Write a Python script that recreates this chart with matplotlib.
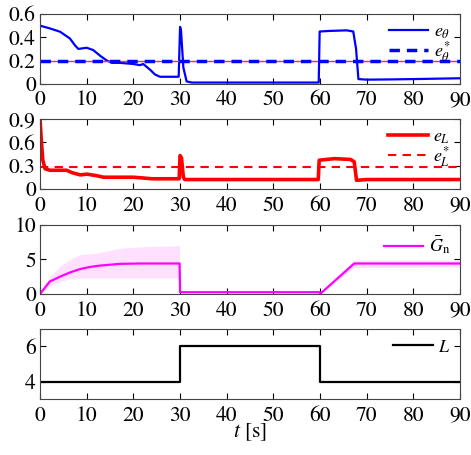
import matplotlib
matplotlib.use("Agg")
import matplotlib.pyplot as plt

plt.rcParams['font.family'] = 'serif'
plt.rcParams['font.serif'] = ['STIXGeneral', 'Liberation Serif', 'DejaVu Serif']
plt.rcParams['mathtext.fontset'] = 'stix'
plt.rcParams['font.size'] = 14

# ---- data ----
t_eth = [0, 2.1, 4.3, 6.4, 7.5, 8.2, 10, 11.4, 12.9, 14.3, 15.4, 17.1, 20, 21.4, 22.1, 23.6, 24.6, 25.7, 29.7,
         30.0, 30.2, 30.7, 31.4, 32.5, 59.7, 59.9, 62, 65.7, 67.1, 67.7, 68.2, 70, 75, 80, 90]
v_eth = [0.50, 0.477, 0.448, 0.39, 0.33, 0.30, 0.31, 0.29, 0.24, 0.20, 0.18, 0.18, 0.17, 0.16, 0.17, 0.12, 0.08, 0.06, 0.06,
         0.49, 0.46, 0.14, 0.02, 0.01, 0.01, 0.45, 0.455, 0.46, 0.45, 0.30, 0.04, 0.035, 0.037, 0.04, 0.047]
eth_ref = 0.2

t_eL = [0, 0.3, 0.6, 1.07, 2.1, 5.7, 6.8, 8.6, 10, 12.1, 13.6, 20, 22.1, 24, 29.8, 30.0, 30.3, 30.7, 31.0, 59.6, 59.8,
        63, 66.5, 67.3, 67.8, 70, 90]
v_eL = [0.9, 0.6, 0.37, 0.26, 0.24, 0.24, 0.21, 0.18, 0.19, 0.17, 0.15, 0.15, 0.14, 0.13, 0.13, 0.43, 0.40, 0.15, 0.12, 0.12, 0.37,
        0.39, 0.38, 0.35, 0.11, 0.12, 0.12]
eL_ref = 0.28

t_G = [0, 2.1, 4.3, 6.4, 8.6, 10.7, 12.9, 17.1, 21.4, 29.9, 30.0, 59.9, 60.0, 67.3, 90]
G_mean = [0, 1.8, 2.5, 3.1, 3.6, 3.9, 4.1, 4.35, 4.4, 4.4, 0.25, 0.25, 0.0, 4.4, 4.4]
G_up = [0, 2.5, 4.0, 5.0, 5.7, 5.8, 6.0, 6.6, 6.8, 7.0, 0.25, 0.25, 0.0, 4.9, 4.9]
G_lo = [0, 1.2, 1.8, 2.2, 2.3, 2.3, 2.3, 2.3, 2.3, 2.3, 0.25, 0.25, 0.0, 3.8, 3.9]

t_L = [0, 30, 60, 90]
v_L = [4, 6, 4, 4]

xticks = [0, 10, 20, 30, 40, 50, 60, 70, 80, 90]

fig = plt.figure(figsize=(4.71, 4.55), dpi=100)
L, W = 0.085, 0.892
boxes = [(0.816, 0.153), (0.585, 0.153), (0.354, 0.152), (0.123, 0.154)]
axes = [fig.add_axes([L, b, W, h]) for b, h in boxes]

for ax in axes:
    ax.set_xlim(0, 90)
    ax.set_xticks(xticks)
    ax.set_xticklabels([str(x) for x in xticks])
    ax.tick_params(direction='in', top=True, right=True, length=4, width=0.8, labelsize=15.5)
    ax.tick_params(axis='x', pad=5)
    ax.tick_params(axis='y', pad=3)
    for s in ax.spines.values():
        s.set_linewidth(0.8)
        s.set_color('#444444')

ax = axes[0]
ax.plot(t_eth, v_eth, color='#0000ff', lw=1.6, label=r'$e_{\theta}$')
ax.axhline(eth_ref, color='#ff3030', lw=1.0)
ax.axhline(eth_ref, color='#0000ff', lw=2.5, ls=(0, (3, 2)), label=r'$e_{\theta}^{*}$')
ax.set_ylim(0, 0.6)
ax.set_yticks([0, 0.2, 0.4, 0.6])
ax.set_yticklabels(['0', '0.2', '0.4', '0.6'])

ax = axes[1]
ax.plot(t_eL, v_eL, color='#ff0000', lw=2.6, label=r'$e_{L}$')
ax.axhline(eL_ref, color='#ff0000', lw=1.5, ls=(0, (4, 3)), label=r'$e_{L}^{*}$')
ax.set_ylim(0, 0.9)
ax.set_yticks([0, 0.3, 0.6, 0.9])
ax.set_yticklabels(['0', '0.3', '0.6', '0.9'])

ax = axes[2]
ax.fill_between(t_G, G_lo, G_up, color='#ff66ff', alpha=0.2, lw=0)
ax.plot(t_G, G_mean, color='#ff00ff', lw=1.6, label=r'$\bar{G}_{\mathrm{n}}$')
ax.set_ylim(0, 10)
ax.set_yticks([0, 5, 10])
ax.set_yticklabels(['0', '5', '10'])

ax = axes[3]
ax.step(t_L, v_L, where='post', color='black', lw=1.6, label=r'$L$')
ax.set_ylim(3, 7)
ax.set_yticks([4, 6])
ax.set_yticklabels(['4', '6'])
ax.set_xlabel(r'$t$ [s]', labelpad=-3, fontsize=15.5)

for ax in axes:
    ax.legend(loc='upper right', frameon=False, handlelength=2.2, handletextpad=0.3,
              labelspacing=-0.1, borderaxespad=0.25, borderpad=0.3, fontsize=13)

fig.savefig('out.png', dpi=100)
